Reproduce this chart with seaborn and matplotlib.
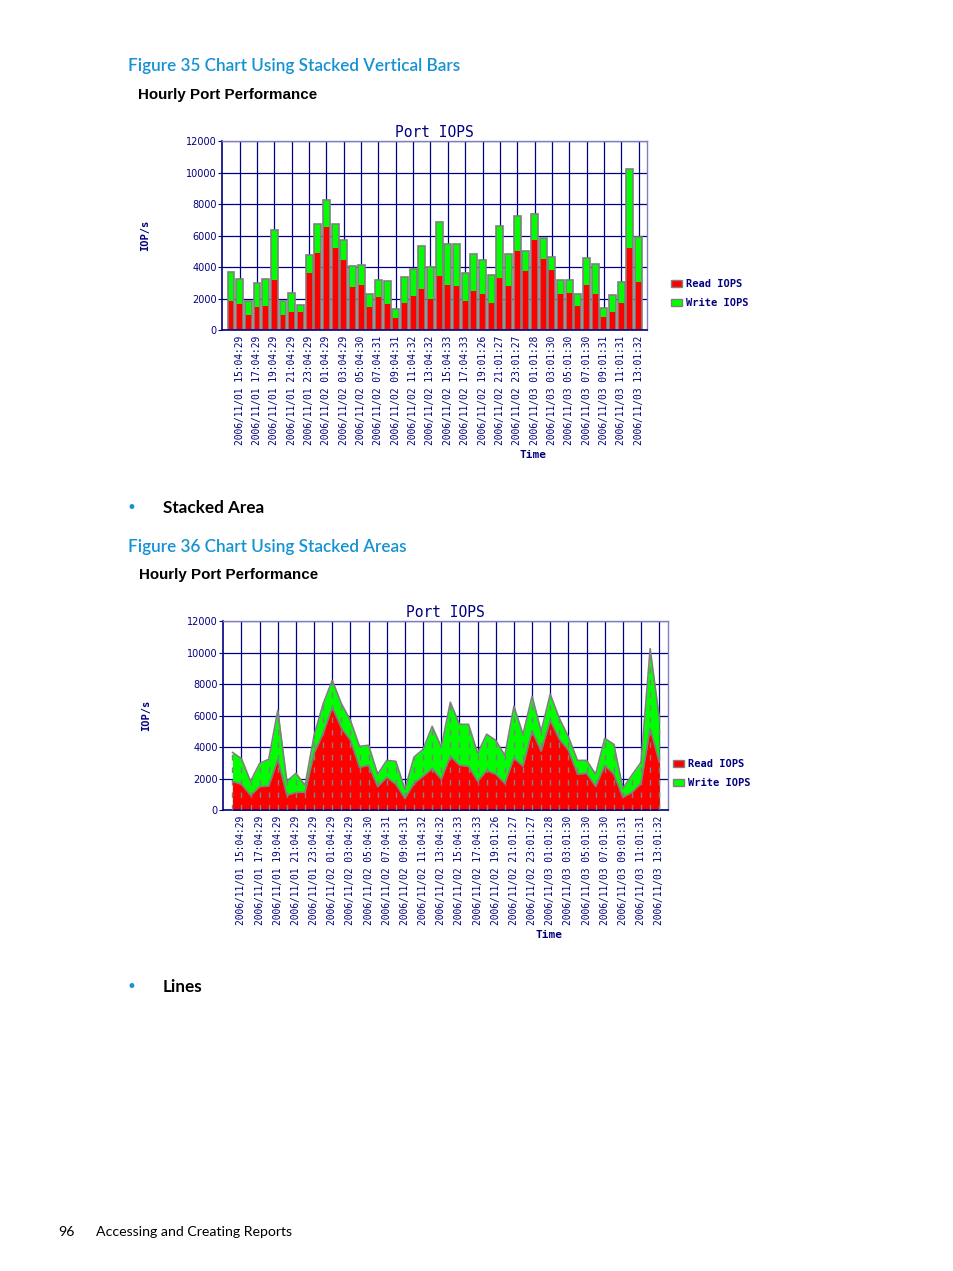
import seaborn as sns
import matplotlib.pyplot as plt
import matplotlib.patches as mpatches

# hourly samples (IOP/s)
read_iops = [1840, 1650, 950, 1500, 1540, 3220, 950, 1140, 1140, 3620,
             4890, 6540, 5230, 4440, 2730, 2860, 1500, 2100, 1650, 760,
             1720, 2160, 2650, 1970, 3430, 2860, 2790, 1840, 2520, 2290,
             1710, 3320, 2790, 5040, 3750, 5710, 4510, 3810, 2290, 2350,
             1520, 2860, 2290, 830, 1140, 1710, 5210, 3050]
write_iops = [1840, 1630, 890, 1480, 1700, 3130, 890, 1210, 450, 1140,
              1880, 1710, 1540, 1270, 1330, 1270, 790, 1070, 1460, 570,
              1660, 1710, 2680, 2050, 3430, 2600, 2670, 1780, 2310, 2150,
              1780, 3280, 2040, 2200, 1270, 1660, 1330, 850, 880, 820,
              770, 1710, 1900, 570, 1100, 1340, 5050, 2850]
time_labels = ['2006/11/01 15:04:29', '2006/11/01 17:04:29', '2006/11/01 19:04:29',
               '2006/11/01 21:04:29', '2006/11/01 23:04:29', '2006/11/02 01:04:29',
               '2006/11/02 03:04:29', '2006/11/02 05:04:30', '2006/11/02 07:04:31',
               '2006/11/02 09:04:31', '2006/11/02 11:04:32', '2006/11/02 13:04:32',
               '2006/11/02 15:04:33', '2006/11/02 17:04:33', '2006/11/02 19:01:26',
               '2006/11/02 21:01:27', '2006/11/02 23:01:27', '2006/11/03 01:01:28',
               '2006/11/03 03:01:30', '2006/11/03 05:01:30', '2006/11/03 07:01:30',
               '2006/11/03 09:01:31', '2006/11/03 11:01:31', '2006/11/03 13:01:32']
y_ticks = [0, 2000, 4000, 6000, 8000, 10000, 12000]

NAVY = '#000080'
EDGE = '#808080'
LIGHT = '#8080c0'
RED = '#ff0000'
GREEN = '#00ff00'
HP_BLUE = '#1592d3'
MONO = 'DejaVu Sans Mono'
HEAD = ['Lato', 'DejaVu Sans']

W, H = 954, 1271
sns.set_style('white')
plt.rcParams['font.family'] = ['DejaVu Sans']

pos = list(range(1, len(read_iops) + 1))
total_iops = [r + w for r, w in zip(read_iops, write_iops)]
tick_pos = pos[1::2]

fig = plt.figure(figsize=(W / 100, H / 100), dpi=100)


def box(left, top, right, bottom):
    return [left / W, 1 - bottom / H, (right - left) / W, (bottom - top) / H]


def style_axes(ax, ylab_x):
    ax.set_xlim(0, 49)
    ax.set_ylim(0, 12000)
    ax.set_yticks(y_ticks)
    ax.set_yticklabels([str(v) for v in y_ticks], fontsize=7, color=NAVY)
    ax.set_xticks(tick_pos)
    ax.set_xticklabels(time_labels, rotation=90, fontsize=6.9, color=NAVY,
                       fontfamily=MONO, va='top')
    ax.tick_params(axis='x', length=0, pad=4)
    ax.tick_params(axis='y', length=3, width=0.8, color=NAVY, pad=1, left=True)
    ax.set_axisbelow(True)
    ax.grid(True, color=NAVY, linewidth=0.9)
    for side in ['left', 'bottom']:
        ax.spines[side].set_color(NAVY)
        ax.spines[side].set_linewidth(1.2)
    for side in ['top', 'right']:
        ax.spines[side].set_color(LIGHT)
        ax.spines[side].set_linewidth(1)
    ax.set_title('Port IOPS', fontfamily=MONO, fontsize=10.5, color=NAVY, pad=3)
    ax.set_xlabel('Time', fontfamily=MONO, fontweight='bold', fontsize=8, color=NAVY)
    ax.xaxis.set_label_coords(0.731, -0.633)
    ax.set_ylabel('IOP/s', fontfamily=MONO, fontweight='bold', fontsize=7.5, color=NAVY)
    ax.yaxis.set_label_coords(ylab_x, 0.5)


def legend_at(x, y):
    handles = [mpatches.Patch(facecolor=RED, edgecolor=EDGE, linewidth=1, label='Read IOPS'),
               mpatches.Patch(facecolor=GREEN, edgecolor=EDGE, linewidth=1, label='Write IOPS')]
    leg = fig.legend(handles=handles, loc='upper left', bbox_to_anchor=(x / W, 1 - y / H),
                     frameon=False, handlelength=1.1, handleheight=0.65,
                     handletextpad=0.3, labelspacing=0.85, borderpad=0, borderaxespad=0,
                     prop={'family': MONO, 'weight': 'bold', 'size': 7.5})
    for t in leg.get_texts():
        t.set_color(NAVY)


# ---- Figure 35: stacked bars
ax1 = fig.add_axes(box(222.3, 141.3, 647.3, 330.3))
sns.barplot(x=pos, y=total_iops, native_scale=True, color=GREEN, saturation=1,
            width=0.8, linewidth=0, errorbar=None, ax=ax1)
sns.barplot(x=pos, y=read_iops, native_scale=True, color=RED, saturation=1,
            width=0.8, linewidth=0, errorbar=None, ax=ax1)
sns.barplot(x=pos, y=total_iops, native_scale=True, fill=False, edgecolor=EDGE,
            width=0.8, linewidth=1.2, errorbar=None, ax=ax1)
style_axes(ax1, -0.17)
legend_at(671, 279)

# ---- Figure 36: stacked areas
ax2 = fig.add_axes(box(223.3, 621.3, 668.3, 810.3))
ax2.fill_between(pos, 0, total_iops, color=GREEN, linewidth=0, zorder=2)
ax2.fill_between(pos, 0, read_iops, color=RED, linewidth=0, zorder=2)
ax2.vlines(pos, 0, total_iops, colors=EDGE, linewidth=1, linestyles=(0, (4, 5)), zorder=3)
sns.lineplot(x=pos, y=total_iops, color=EDGE, linewidth=1.2, ax=ax2, zorder=4)
sns.lineplot(x=pos, y=read_iops, color=EDGE, linewidth=1.2, ax=ax2, zorder=4)
style_axes(ax2, -0.162)
legend_at(673, 759)


# ---- page text
def page_text(x, y, s, **kw):
    fig.text(x / W, 1 - y / H, s, va='center', ha='left', **kw)


page_text(128, 66, 'Figure 35 Chart Using Stacked Vertical Bars', color=HP_BLUE,
          fontsize=12.3, family=HEAD, fontweight='semibold')
page_text(138, 95, 'Hourly Port Performance', color='black', fontsize=10.9,
          family=['Liberation Sans', 'DejaVu Sans'], fontweight='bold')
page_text(127, 508, '\u2022', color=HP_BLUE, fontsize=12, family=['DejaVu Sans'])
page_text(163, 508, 'Stacked Area', color='black', fontsize=12.3, family=HEAD,
          fontweight='bold')
page_text(128, 547, 'Figure 36 Chart Using Stacked Areas', color=HP_BLUE,
          fontsize=12.3, family=HEAD, fontweight='semibold')
page_text(139, 575, 'Hourly Port Performance', color='black', fontsize=10.9,
          family=['Liberation Sans', 'DejaVu Sans'], fontweight='bold')
page_text(127, 987, '\u2022', color=HP_BLUE, fontsize=12, family=['DejaVu Sans'])
page_text(163, 987, 'Lines', color='black', fontsize=12.3, family=HEAD, fontweight='bold')
page_text(58, 1232, '96', color='black', fontsize=10.2, family=HEAD)
page_text(96, 1232, 'Accessing and Creating Reports', color='black', fontsize=10.2, family=HEAD)

fig.savefig('out.png', dpi=100, facecolor='white')
